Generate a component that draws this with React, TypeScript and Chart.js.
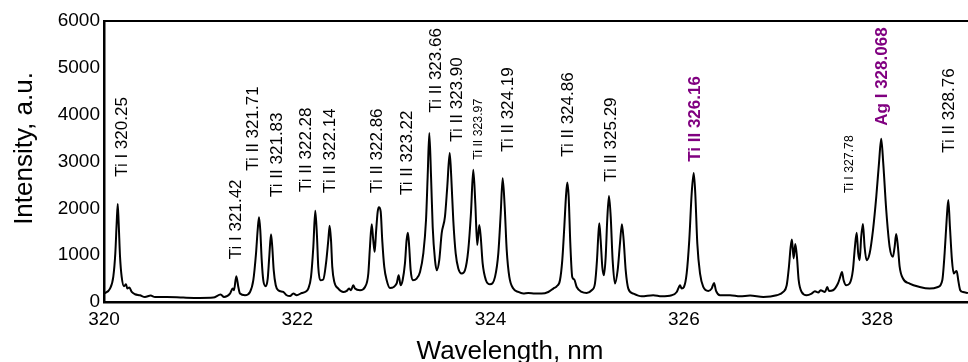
import React, { useEffect, useRef } from "react";
import { Chart, registerables } from "chart.js";

Chart.register(...registerables);

// Spectrum: wavelength (nm) and intensity (a.u.)
const wavelength = [
  320.000, 320.062, 320.096, 320.117, 320.131, 320.142, 320.152, 320.166, 320.183, 320.207,
  320.228, 320.241, 320.262, 320.287, 320.321, 320.372, 320.424, 320.483, 320.528, 320.649,
  320.820, 320.993, 321.131, 321.207, 321.242, 321.304, 321.332, 321.345, 321.369, 321.390,
  321.407, 321.459, 321.511, 321.545, 321.573, 321.590, 321.604, 321.617, 321.632, 321.648,
  321.673, 321.694, 321.710, 321.728, 321.741, 321.756, 321.777, 321.803, 321.855, 321.890,
  321.925, 321.959, 321.994, 322.046, 322.080, 322.114, 322.142, 322.166, 322.186, 322.204,
  322.217, 322.238, 322.269, 322.297, 322.321, 322.335, 322.349, 322.362, 322.383, 322.424,
  322.476, 322.511, 322.535, 322.556, 322.579, 322.597, 322.649, 322.701, 322.735, 322.752,
  322.770, 322.786, 322.801, 322.814, 322.832, 322.845, 322.863, 322.879, 322.900, 322.925,
  322.959, 323.028, 323.049, 323.069, 323.090, 323.114, 323.131, 323.145, 323.158, 323.173,
  323.194, 323.235, 323.270, 323.304, 323.332, 323.349, 323.366, 323.384, 323.401, 323.425,
  323.443, 323.469, 323.494, 323.528, 323.552, 323.577, 323.593, 323.614, 323.639, 323.666,
  323.701, 323.735, 323.769, 323.797, 323.821, 323.842, 323.862, 323.883, 323.898, 323.918,
  323.952, 323.994, 324.046, 324.080, 324.105, 324.125, 324.146, 324.167, 324.194, 324.235,
  324.287, 324.338, 324.390, 324.459, 324.529, 324.597, 324.649, 324.684, 324.718, 324.742,
  324.763, 324.780, 324.794, 324.808, 324.825, 324.845, 324.866, 324.891, 324.943, 324.994,
  325.046, 325.080, 325.101, 325.114, 325.125, 325.139, 325.156, 325.173, 325.191, 325.207,
  325.225, 325.243, 325.263, 325.287, 325.315, 325.339, 325.359, 325.377, 325.398, 325.425,
  325.477, 325.563, 325.683, 325.770, 325.874, 325.926, 325.949, 325.960, 325.977, 326.001,
  326.029, 326.056, 326.081, 326.102, 326.118, 326.139, 326.167, 326.201, 326.253, 326.288,
  326.312, 326.333, 326.374, 326.478, 326.581, 326.685, 326.822, 326.960, 327.028, 327.064,
  327.087, 327.105, 327.118, 327.136, 327.153, 327.170, 327.188, 327.219, 327.271, 327.322,
  327.356, 327.391, 327.415, 327.460, 327.484, 327.501, 327.543, 327.594, 327.618, 327.636,
  327.653, 327.680, 327.715, 327.749, 327.770, 327.788, 327.804, 327.819, 327.835, 327.853,
  327.870, 327.891, 327.922, 327.957, 327.991, 328.019, 328.042, 328.063, 328.094, 328.129,
  328.163, 328.181, 328.197, 328.215, 328.233, 328.267, 328.336, 328.440, 328.543, 328.629,
  328.674, 328.698, 328.719, 328.736, 328.753, 328.774, 328.792, 328.808, 328.823, 328.839,
  328.860, 328.888, 328.939,
];

const intensity = [
  180, 287, 536, 1037, 1680, 2094, 1680, 964, 536, 336,
  379, 287, 309, 214, 165, 144, 107, 137, 107, 107,
  94, 86, 94, 159, 107, 180, 287, 251, 551, 321,
  180, 144, 214, 465, 1037, 1537, 1809, 1537, 894, 465,
  336, 501, 964, 1444, 1179, 679, 358, 251, 214, 144,
  129, 180, 144, 193, 214, 287, 536, 1179, 1950, 1393,
  750, 465, 480, 823, 1322, 1629, 1322, 750, 429, 287,
  214, 236, 287, 251, 358, 287, 251, 321, 609, 1179,
  1659, 1322, 1072, 1466, 1929, 2023, 1929, 1322, 750, 465,
  300, 394, 572, 358, 465, 823, 1322, 1479, 1179, 679,
  465, 501, 643, 1037, 1751, 2679, 3609, 2679, 1607, 894,
  679, 894, 1466, 1822, 2464, 3180, 2679, 1751, 1037, 716,
  609, 679, 1108, 1894, 2822, 2109, 1215, 1644, 1393, 823,
  465, 379, 536, 1037, 1894, 2644, 2036, 1108, 536, 287,
  214, 180, 193, 180, 180, 214, 287, 336, 465, 894,
  1607, 2250, 2550, 2250, 1252, 536, 480, 321, 214, 193,
  251, 394, 894, 1393, 1680, 1322, 750, 572, 964, 1751,
  2265, 1822, 894, 394, 679, 1252, 1659, 1322, 679, 287,
  180, 122, 144, 122, 144, 214, 321, 358, 287, 321,
  609, 1322, 2323, 2752, 2323, 1252, 609, 321, 236, 287,
  407, 236, 144, 144, 122, 137, 107, 144, 214, 358,
  750, 1179, 1337, 930, 1237, 964, 465, 214, 144, 180,
  229, 201, 251, 214, 321, 236, 251, 394, 536, 643,
  465, 358, 394, 679, 1179, 1479, 1037, 894, 1393, 1665,
  1179, 894, 1037, 1537, 2250, 2966, 3487, 2966, 1965, 1179,
  964, 1179, 1451, 1179, 750, 501, 394, 321, 287, 321,
  465, 1037, 1751, 2179, 1607, 894, 609, 643, 664, 465,
  251, 214, 193,
];

// Axis ticks
const xTickValues = [320, 322, 324, 326, 328];
const yTickValues = [0, 1000, 2000, 3000, 4000, 5000, 6000];

// Line annotations: text, anchor wavelength, anchor intensity (bottom of text), kind
const lineLabels = ["Ti I 320.25", "Ti I 321.42", "Ti II 321.71", "Ti II 321.83", "Ti II 322.28", "Ti II 322.14", "Ti II 322.86", "Ti II 323.22", "Ti II 323.66", "Ti II 323.90", "Ti II 323.97", "Ti II 324.19", "Ti II 324.86", "Ti II 325.29", "Ti II 326.16", "Ti I 327.78", "Ag I 328.068", "Ti II 328.76"];
const labelWavelength = [320.173, 321.355, 321.531, 321.780, 322.080, 322.328, 322.814, 323.125, 323.425, 323.642, 323.870, 324.170, 324.791, 325.235, 326.104, 327.708, 328.039, 328.733];
const labelIntensity = [2672, 915, 2801, 2244, 2351, 2330, 2330, 2287, 4046, 3422, 3036, 3208, 3101, 2565, 2994, 2330, 3765, 3187];
const labelKind = ["n", "n", "n", "n", "n", "n", "n", "n", "n", "n", "s", "n", "n", "n", "h", "s", "h", "n"];

const FONT = "'Liberation Sans', Arial, sans-serif";

const overlayPlugin = {
  id: "overlay",
  afterDatasetsDraw(chart: any) {
    const { ctx, chartArea, scales } = chart;
    const xs = scales.x;
    const ys = scales.y;
    ctx.save();
    // top frame line
    ctx.strokeStyle = "#000";
    ctx.lineWidth = 2;
    ctx.beginPath();
    ctx.moveTo(chartArea.left - 1, chartArea.top);
    ctx.lineTo(chartArea.right, chartArea.top);
    ctx.stroke();

    // annotations
    for (let i = 0; i < lineLabels.length; i++) {
      const kind = labelKind[i];
      const size = kind === "s" ? 12.3 : 17;
      const weight = kind === "h" ? "bold " : "";
      const color = kind === "h" ? "#800080" : "#000";
      const px = xs.getPixelForValue(labelWavelength[i]);
      const py = ys.getPixelForValue(labelIntensity[i]);
      ctx.save();
      ctx.translate(px + size * 0.358, py);
      ctx.rotate(-Math.PI / 2);
      ctx.font = `${weight}${size}px ${FONT}`;
      ctx.fillStyle = color;
      ctx.textAlign = "left";
      ctx.textBaseline = "alphabetic";
      ctx.fillText(lineLabels[i], 0, 0);
      ctx.restore();
    }

    // axis titles
    ctx.fillStyle = "#000";
    ctx.font = `26px ${FONT}`;
    ctx.textAlign = "center";
    ctx.textBaseline = "alphabetic";
    ctx.fillText("Wavelength, nm", 510, 358.6);
    ctx.save();
    ctx.translate(32, 148.5);
    ctx.rotate(-Math.PI / 2);
    ctx.fillText("Intensity, a.u.", 0, 0);
    ctx.restore();
    ctx.restore();
  },
};

export default function App() {
  const ref = useRef<HTMLCanvasElement | null>(null);
  useEffect(() => {
    if (!ref.current) return;
    const data = wavelength.map((w, i) => ({ x: w, y: intensity[i] }));
    const chart = new Chart(ref.current, {
      type: "line",
      data: {
        datasets: [
          {
            data,
            borderColor: "#000",
            borderWidth: 2,
            pointRadius: 0,
            cubicInterpolationMode: "monotone",
            fill: false,
          },
        ],
      },
      options: {
        animation: false,
        responsive: false,
        devicePixelRatio: 1,
        layout: { padding: { top: 21, left: 0, right: 0, bottom: 0 } },
        plugins: { legend: { display: false }, tooltip: { enabled: false }, title: { display: false } },
        scales: {
          x: {
            type: "linear",
            min: 320,
            max: 328.94,
            afterFit: (s: any) => { s.height = 60; },
            afterBuildTicks: (s: any) => { s.ticks = xTickValues.map((v) => ({ value: v })); },
            ticks: {
              color: "#000",
              font: { family: FONT, size: 19 },
              padding: 6,
              maxRotation: 0,
              autoSkip: false,
              callback: (v: any) => String(v),
            },
            grid: { display: false, drawTicks: false },
            border: { display: true, color: "#000", width: 2.5 },
          },
          y: {
            type: "linear",
            min: 0,
            max: 6000,
            afterFit: (s: any) => { s.width = 104; },
            afterBuildTicks: (s: any) => { s.ticks = yTickValues.map((v) => ({ value: v })); },
            ticks: {
              color: "#000",
              font: { family: FONT, size: 19 },
              padding: 4,
              autoSkip: false,
              callback: (v: any) => String(v),
            },
            grid: { display: false, drawTicks: false },
            border: { display: true, color: "#000", width: 2.5 },
          },
        },
      },
      plugins: [overlayPlugin],
    });
    return () => chart.destroy();
  }, []);
  return (
    <div style={{ position: "fixed", left: 0, top: 0, width: 968, height: 362, background: "#fff" }}>
      <canvas ref={ref} width={968} height={362} style={{ width: 968, height: 362, display: "block" }} />
    </div>
  );
}
